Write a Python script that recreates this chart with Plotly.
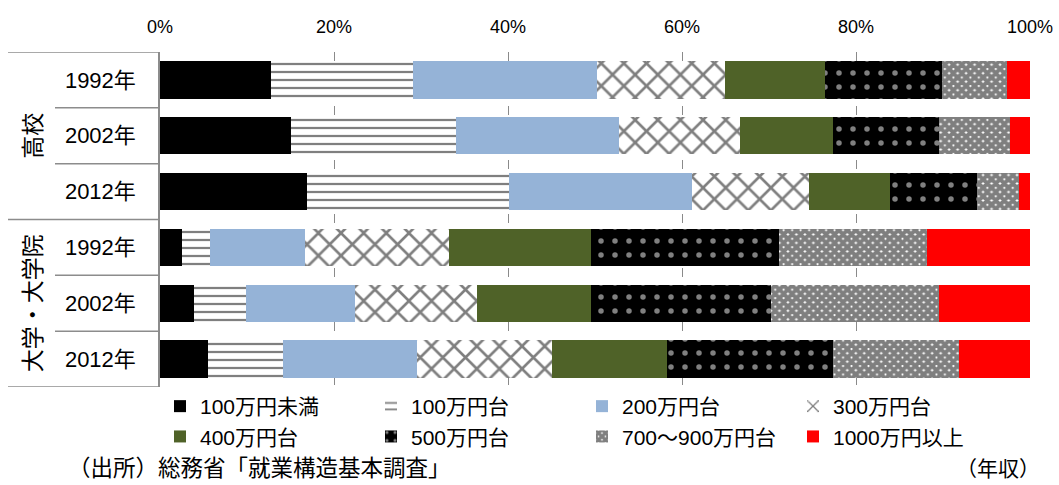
import plotly.graph_objects as go

# ---- data (percent shares) ----
rows = ["1992年", "2002年", "2012年", "1992年", "2002年", "2012年"]
groups = ["高校", "大学・大学院"]
categories = ["100万円未満", "100万円台", "200万円台", "300万円台",
              "400万円台", "500万円台", "700～900万円台", "1000万円以上"]

s_lt100 = [12.8, 15.1, 16.9, 2.5, 3.9, 5.5]
s_100 = [16.3, 18.9, 23.2, 3.2, 6.0, 8.6]
s_200 = [21.1, 18.8, 21.0, 11.0, 12.5, 15.4]
s_300 = [14.7, 13.9, 13.5, 16.5, 14.0, 15.5]
s_400 = [11.5, 10.6, 9.3, 16.3, 13.1, 13.3]
s_500 = [13.5, 12.2, 10.0, 21.7, 20.7, 19.0]
s_700 = [7.5, 8.2, 4.8, 17.0, 19.3, 14.5]
s_1000 = [2.6, 2.3, 1.3, 11.8, 10.5, 8.2]

series = [s_lt100, s_100, s_200, s_300, s_400, s_500, s_700, s_1000]
xticks = [0, 20, 40, 60, 80, 100]
xticklabels = ["0%", "20%", "40%", "60%", "80%", "100%"]

FONT = "Liberation Sans, Arial, Noto Sans CJK JP"

styles = [
    dict(color="#000000"),
    dict(color="#ffffff", pattern=dict(shape="-", fgcolor="#000000", bgcolor="#ffffff",
                                       size=8, solidity=0.28, fillmode="overlay")),
    dict(color="#95b3d7"),
    dict(color="#ffffff", pattern=dict(shape="x", fgcolor="#000000", bgcolor="#ffffff",
                                       size=16, solidity=0.3, fillmode="overlay")),
    dict(color="#4f6228"),
    dict(color="#000000", pattern=dict(shape=".", fgcolor="#ffffff", bgcolor="#000000",
                                       size=14, solidity=0.12, fillmode="overlay")),
    dict(color="#ffffff", pattern=dict(shape="x", fgcolor="#000000", bgcolor="#ffffff",
                                       size=6, solidity=0.9, fillmode="overlay")),
    dict(color="#ff0000"),
]

ypos = list(range(len(rows)))

fig = go.Figure()
for name, vals, st in zip(categories, series, styles):
    marker = dict(color=st["color"], line=dict(width=0))
    if "pattern" in st:
        marker["pattern"] = st["pattern"]
    fig.add_trace(go.Bar(
        y=ypos, x=vals, name=name, orientation="h", marker=marker,
        hoverinfo="x+name",
    ))

fig.update_layout(
    barmode="stack",
    bargap=0.33,
    width=1059, height=485,
    margin=dict(l=160, r=29, t=52, b=98, autoexpand=False),
    plot_bgcolor="white", paper_bgcolor="white",
    font=dict(family=FONT, size=18, color="#000000"),
    showlegend=True,
    legend=dict(
        orientation="h", x=0.0, xanchor="left", y=0.003, yanchor="top",
        entrywidth=166, entrywidthmode="pixels",
        font=dict(family=FONT, size=21),
        traceorder="normal", itemclick=False, borderwidth=0,
    ),
)

fig.update_xaxes(
    side="top", range=[0, 100], tickvals=xticks, ticktext=xticklabels,
    showgrid=True, gridcolor="#8a8a8a", griddash="dash", gridwidth=1,
    zeroline=False, showline=False, ticks="", ticklabelstandoff=14,
    tickfont=dict(size=18), automargin=False,
)
fig.update_yaxes(
    range=[5.5, -0.5], tickvals=ypos, ticktext=rows, ticks="",
    showgrid=False, zeroline=False, showline=True, linecolor="#8c8c8c", linewidth=1.5,
    ticklabelstandoff=18, tickfont=dict(size=22), automargin=False,
)

# left-side table lines
def px_to_paper(px):
    return (px - 160) / 870.0

for yv in [-0.5, 2.5, 5.5]:
    fig.add_shape(type="line", xref="paper", yref="y",
                  x0=px_to_paper(8), x1=0, y0=yv, y1=yv,
                  line=dict(color="#8c8c8c", width=1.5))
for yv in [0.5, 1.5, 3.5, 4.5]:
    fig.add_shape(type="line", xref="paper", yref="y",
                  x0=px_to_paper(55), x1=0, y0=yv, y1=yv,
                  line=dict(color="#8c8c8c", width=1.5))

# group labels (vertical)
fig.add_annotation(text=groups[0], xref="paper", yref="y", x=px_to_paper(33), y=1,
                   xanchor="center", yanchor="middle",
                   textangle=-90, showarrow=False, font=dict(size=23))
fig.add_annotation(text=groups[1], xref="paper", yref="y", x=px_to_paper(33), y=4,
                   xanchor="center", yanchor="middle",
                   textangle=-90, showarrow=False, font=dict(size=23))

# footnotes
fig.add_annotation(text="（出所）総務省「就業構造基本調査」", xref="paper", yref="paper",
                   x=px_to_paper(66), xanchor="left", y=-(468 - 387) / 335.0, yanchor="middle",
                   showarrow=False, font=dict(size=22.5))
fig.add_annotation(text="（年収）", xref="paper", yref="paper",
                   x=px_to_paper(1042), xanchor="right", y=-(468 - 387) / 335.0, yanchor="middle",
                   showarrow=False, font=dict(size=21))

fig.write_html("out.html")
